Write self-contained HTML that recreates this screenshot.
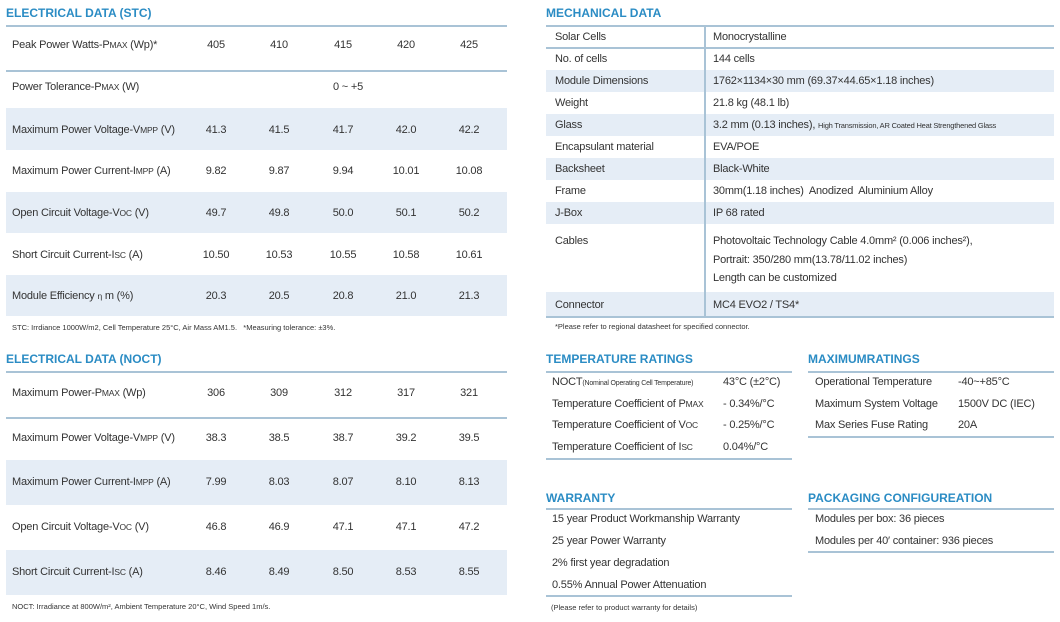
<!DOCTYPE html>
<html><head><meta charset="utf-8"><style>
*{margin:0;padding:0;box-sizing:border-box}
body{width:1060px;height:622px;background:#fff;font-family:"Liberation Sans",sans-serif;color:#333;position:relative;overflow:hidden;font-size:11px}
.a{position:absolute;white-space:nowrap;letter-spacing:-0.2px}
.t{position:absolute;color:#2b8cc4;font-weight:bold;font-size:12px;white-space:nowrap}
.l{position:absolute;height:1.5px;background:#a9c3d6}
.s{position:absolute;background:#e5edf6}
.sc{font-size:8.5px}
.n{font-size:7.5px;position:absolute;white-space:nowrap}
</style></head><body>
<div class="t" style="left:6px;top:6px">ELECTRICAL DATA (STC)</div>
<div class="l" style="left:6px;top:25px;width:501px"></div>
<div class="l" style="left:6px;top:70px;width:501px"></div>
<div class="s" style="left:6px;top:108px;width:501px;height:42px"></div>
<div class="s" style="left:6px;top:192px;width:501px;height:41px"></div>
<div class="s" style="left:6px;top:275px;width:501px;height:41px"></div>
<div class="n" style="left:12px;top:323px">STC: Irrdiance 1000W/m2, Cell Temperature 25°C, Air Mass AM1.5.&nbsp;&nbsp; *Measuring tolerance: ±3%.</div>
<div class="t" style="left:6px;top:352px">ELECTRICAL DATA (NOCT)</div>
<div class="l" style="left:6px;top:371px;width:501px"></div>
<div class="l" style="left:6px;top:417px;width:501px"></div>
<div class="s" style="left:6px;top:460px;width:501px;height:45px"></div>
<div class="s" style="left:6px;top:550px;width:501px;height:45px"></div>
<div class="n" style="left:12px;top:602px">NOCT: Irradiance at 800W/m², Ambient Temperature 20°C, Wind Speed 1m/s.</div>
<div class="t" style="left:546px;top:6px">MECHANICAL DATA</div>
<div class="l" style="left:546px;top:25px;width:508px"></div>
<div class="l" style="left:546px;top:47px;width:508px"></div>
<div class="s" style="left:546px;top:70px;width:508px;height:22px"></div>
<div class="s" style="left:546px;top:114px;width:508px;height:22px"></div>
<div class="s" style="left:546px;top:158px;width:508px;height:22px"></div>
<div class="s" style="left:546px;top:202px;width:508px;height:22px"></div>
<div class="s" style="left:546px;top:292px;width:508px;height:24px"></div>
<div class="l" style="left:546px;top:316px;width:508px"></div>
<div style="position:absolute;left:704px;top:26px;width:1.5px;height:291px;background:#a9c3d6"></div>
<div class="n" style="left:555px;top:322px">*Please refer to regional datasheet for specified connector.</div>
<div class="t" style="left:546px;top:352px">TEMPERATURE RATINGS</div>
<div class="l" style="left:546px;top:371px;width:246px"></div>
<div class="l" style="left:546px;top:458px;width:246px"></div>
<div class="t" style="left:808px;top:352px">MAXIMUMRATINGS</div>
<div class="l" style="left:808px;top:371px;width:246px"></div>
<div class="l" style="left:808px;top:436px;width:246px"></div>
<div class="t" style="left:546px;top:491px">WARRANTY</div>
<div class="l" style="left:546px;top:508px;width:246px"></div>
<div class="l" style="left:546px;top:595px;width:246px"></div>
<div class="n" style="left:551px;top:603px">(Please refer to product warranty for details)</div>
<div class="t" style="left:808px;top:491px">PACKAGING CONFIGUREATION</div>
<div class="l" style="left:808px;top:508px;width:246px"></div>
<div class="l" style="left:808px;top:551px;width:246px"></div>
<div id="txt"></div>
<script>
var o='';
function T(x,y,s,c){o+='<div class="a" style="left:'+x+'px;top:'+(y-6)+'px'+(c?';transform:translateX(-50%)':'')+'">'+s+'</div>';}
var cx=[216,279,343,406,469];
function R(y,l,v){T(12,y,l);v.forEach(function(s,i){T(cx[i],y,s,1);});}
R(45,'Peak Power Watts-P<span class=sc>MAX</span> (Wp)*',['405','410','415','420','425']);
T(12,87,'Power Tolerance-P<span class=sc>MAX</span> (W)');T(348,87,'0 ~ +5',1);
R(130,'Maximum Power Voltage-V<span class=sc>MPP</span> (V)',['41.3','41.5','41.7','42.0','42.2']);
R(171,'Maximum Power Current-I<span class=sc>MPP</span> (A)',['9.82','9.87','9.94','10.01','10.08']);
R(213,'Open Circuit Voltage-V<span class=sc>OC</span> (V)',['49.7','49.8','50.0','50.1','50.2']);
R(255,'Short Circuit Current-I<span class=sc>SC</span> (A)',['10.50','10.53','10.55','10.58','10.61']);
R(296,'Module Efficiency <span class=sc>η</span> m (%)',['20.3','20.5','20.8','21.0','21.3']);
R(393,'Maximum Power-P<span class=sc>MAX</span> (Wp)',['306','309','312','317','321']);
R(438,'Maximum Power Voltage-V<span class=sc>MPP</span> (V)',['38.3','38.5','38.7','39.2','39.5']);
R(482,'Maximum Power Current-I<span class=sc>MPP</span> (A)',['7.99','8.03','8.07','8.10','8.13']);
R(527,'Open Circuit Voltage-V<span class=sc>OC</span> (V)',['46.8','46.9','47.1','47.1','47.2']);
R(572,'Short Circuit Current-I<span class=sc>SC</span> (A)',['8.46','8.49','8.50','8.53','8.55']);
var m=[[37,'Solar Cells','Monocrystalline'],[59,'No. of cells','144 cells'],[81,'Module Dimensions','1762×1134×30 mm (69.37×44.65×1.18 inches)'],[103,'Weight','21.8 kg (48.1 lb)'],[125,'Glass','3.2 mm (0.13 inches), <span style="font-size:7.5px">High Transmission, AR Coated Heat Strengthened Glass</span>'],[147,'Encapsulant material','EVA/POE'],[169,'Backsheet','Black-White'],[191,'Frame','30mm(1.18 inches)&nbsp; Anodized&nbsp; Aluminium Alloy'],[213,'J-Box','IP 68 rated'],[241,'Cables','Photovoltaic Technology Cable 4.0mm² (0.006 inches²),'],[305,'Connector','MC4 EVO2 / TS4*']];
m.forEach(function(r){T(555,r[0],r[1]);T(713,r[0],r[2]);});
T(713,260,'Portrait: 350/280 mm(13.78/11.02 inches)');T(713,278,'Length can be customized');
T(552,382,'NOCT<span style="font-size:7px">(Nominal Operating Cell Temperature)</span>');T(723,382,'43°C (±2°C)');
T(552,404,'Temperature Coefficient of P<span class=sc>MAX</span>');T(723,404,'- 0.34%/°C');
T(552,425,'Temperature Coefficient of V<span class=sc>OC</span>');T(723,425,'- 0.25%/°C');
T(552,447,'Temperature Coefficient of I<span class=sc>SC</span>');T(723,447,'0.04%/°C');
T(815,382,'Operational Temperature');T(958,382,'-40~+85°C');
T(815,404,'Maximum System Voltage');T(958,404,'1500V DC (IEC)');
T(815,425,'Max Series Fuse Rating');T(958,425,'20A');
T(552,519,'15 year Product Workmanship Warranty');T(552,541,'25 year Power Warranty');
T(552,563,'2% first year degradation');T(552,585,'0.55% Annual Power Attenuation');
T(815,519,'Modules per box: 36 pieces');T(815,541,'Modules per 40′ container: 936 pieces');
document.getElementById('txt').innerHTML=o;
</script>
</body></html>
